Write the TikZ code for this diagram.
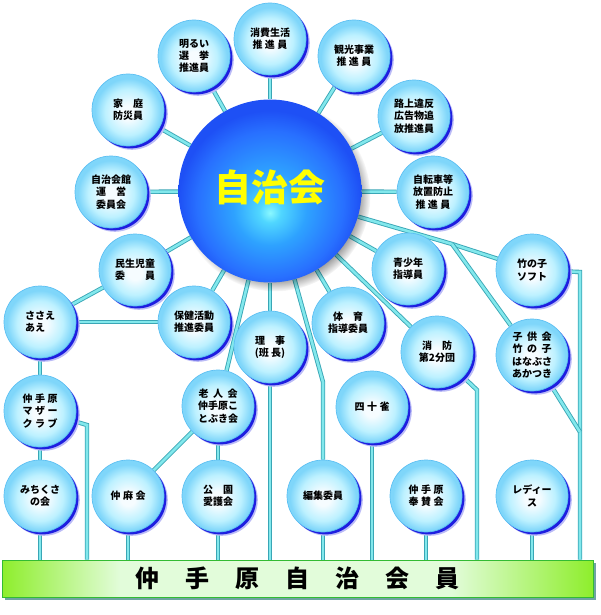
\documentclass[tikz,border=0pt]{standalone}
\usepackage{fontspec}
\setmainfont{Noto Sans CJK JP}
\usetikzlibrary{shadows,fadings,calc}
\definecolor{bubC}{HTML}{F6FCFF}
\definecolor{bubA}{HTML}{BDF1FF}
\definecolor{bubB}{HTML}{7FD6FA}
\definecolor{bubRim}{HTML}{5CBFF2}
\definecolor{bubSh}{HTML}{1E1EE0}
\definecolor{ballC}{HTML}{8AF8FF}
\definecolor{ballC2}{HTML}{50D6FF}
\definecolor{ballM}{HTML}{2EA2FF}
\definecolor{ballO}{HTML}{2870FF}
\definecolor{ballE}{HTML}{1E50F5}
\definecolor{ballText}{HTML}{FFFF00}
\definecolor{connFill}{HTML}{82E8EC}
\definecolor{connEdge}{HTML}{3AA6B6}
\definecolor{barG}{HTML}{8EEE2C}
\definecolor{barL}{HTML}{E2FCDA}
\definecolor{barEdge}{HTML}{33BB33}
\definecolor{barSh}{HTML}{6FA3A3}
\pgfdeclareradialshading{bubshade}{\pgfpoint{0bp}{-2bp}}{color(0bp)=(bubC); color(5bp)=(bubC); color(16bp)=(bubA); color(23bp)=(bubB); color(25bp)=(bubB); color(50bp)=(bubB)}
\pgfdeclareradialshading{ballshade}{\pgfpoint{0bp}{-6bp}}{color(0bp)=(ballC); color(3bp)=(ballC2); color(10bp)=(ballM); color(20bp)=(ballO); color(25bp)=(ballE); color(50bp)=(ballE)}
\pgfdeclarehorizontalshading{barshade}{100bp}{color(0bp)=(barG); color(25bp)=(barG); color(35bp)=(barL); color(63bp)=(barL); color(75bp)=(barG); color(100bp)=(barG)}
\pgfdeclarelayer{bg}
\pgfsetlayers{bg,main}
\begin{document}
\begin{tikzpicture}[x=1pt,y=-1pt,
  bub/.style={circle, minimum size=72pt, inner sep=0pt, align=center,
    font=\bfseries\fontsize{10}{12.3}\selectfont, text=black,
    shading=bubshade, draw=bubRim, line width=0.7pt,
    preaction={fill=bubSh!30!white, transform canvas={xshift=3.8pt,yshift=-3.8pt}},
    preaction={fill=bubSh, transform canvas={xshift=2.4pt,yshift=-2.4pt}}},
  bigball/.style={circle, minimum size=183pt, inner sep=0pt, shading=ballshade,
    circular drop shadow={shadow xshift=5pt, shadow yshift=-5pt, shadow scale=1.04, fill=black, opacity=.45}},
  balltext/.style={inner sep=0pt, text=ballText, font=\bfseries\fontsize{37}{40}\selectfont},
  barbox/.style={rectangle, minimum width=591pt, minimum height=37pt, inner sep=0pt,
    shading=barshade, draw=barEdge, line width=1pt,
    preaction={fill=barSh, transform canvas={xshift=3pt,yshift=-3pt}},
    font=\bfseries\fontsize{24}{24}\selectfont, text=black},
  conn/.style={draw=connEdge, line width=0.9pt, double=connFill, double distance=2.6pt}]
\useasboundingbox (0,0) rectangle (600,615);

\node[bigball] (ball) at (270,191) {};
\node[balltext] (balllabel) at (270,187) {自治会};

\node[bub] (akarui) at (194,56) {明るい\\選　挙\\推進員};
\node[bub] (shohi) at (270,39) {消費生活\\推 進 員};
\node[bub] (kanko) at (354,56) {観光事業\\推 進 員};
\node[bub] (rojo) at (414,116) {路上違反\\広告物追\\放推進員};
\node[bub] (jiten) at (433,192) {自転車等\\放置防止\\推 進 員};
\node[bub] (katei) at (128,110) {家　庭\\防災員};
\node[bub] (kaikan) at (111,192) {自治会館\\運　営\\委員会};
\node[bub] (minsei) at (135,270) {民生児童\\委　　員};
\node[bub, align=left] (sasae) at (40,322) {ささえ\\あえ};
\node[bub] (hoken) at (194,322) {保健活動\\推進委員};
\node[bub] (riji) at (270,347) {理　事\\(班 長)};
\node[bub] (taiiku) at (348,323) {体　育\\指導委員};
\node[bub] (seisho) at (408,269) {青少年\\指導員};
\node[bub] (shobo) at (437,352) {消　防\\第2分団};
\node[bub] (take) at (532,270) {竹の子\\ソフト};
\node[bub] (kodomo) at (532,355) {子\hspace{.45em}供\hspace{.45em}会\\竹\hspace{.45em}の\hspace{.45em}子\\はなぶさ\\あかつき};
\node[bub] (rojin) at (218,406) {老\hspace{.45em}人\hspace{.45em}会\\仲手原こ\\とぶき会};
\node[bub] (shiju) at (372,407) {四\hspace{.25em}十\hspace{.25em}雀};
\node[bub] (mother) at (40,411) {仲\hspace{.25em}手\hspace{.25em}原\\マ\hspace{.25em}ザ\hspace{.25em}ー\\ク\hspace{.25em}ラ\hspace{.25em}ブ};
\node[bub] (michi) at (40,496) {みちくさ\\の会};
\node[bub] (chuma) at (128,496) {仲\hspace{.25em}麻\hspace{.25em}会};
\node[bub] (koen) at (218,496) {公　園\\愛護会};
\node[bub] (henshu) at (323,496) {編集委員};
\node[bub] (hosan) at (426,496) {仲\hspace{.25em}手\hspace{.25em}原\\奉\hspace{.25em}賛\hspace{.25em}会};
\node[bub] (ladies) at (532,496) {レディー\\ス};

\node[barbox] (bar) at (297.5,578.5) {仲\hspace{26pt}手\hspace{26pt}原\hspace{26pt}自\hspace{26pt}治\hspace{26pt}会\hspace{26pt}員};

\coordinate (j2) at (452,244);
\coordinate (bShobo) at (477,390);
\coordinate (bTake) at (580,272);
\coordinate (bKodomo) at (580,432);
\coordinate (bHenshu) at (323,382);
\coordinate (bMother) at (87,425);

\begin{pgfonlayer}{bg}
\foreach \t in {katei,akarui,shohi,kanko,rojo,jiten,kaikan,minsei,hoken,riji,taiiku,seisho,shobo,rojin}
  \draw[conn] (ball) -- (\t);
\draw[conn] (ball) -- (j2) -- (take);
\draw[conn] (j2) -- (kodomo);
\draw[conn] (ball) -- (bHenshu) -- (henshu);
\draw[conn] (shobo) -- (bShobo) -- (bShobo |- bar.north);
\draw[conn] (take) -- (bTake) -- (bTake |- bar.north);
\draw[conn] (kodomo) -- (bKodomo);
\draw[conn] (rojin) -- (chuma);
\draw[conn] (rojin) -- (koen);
\draw[conn] (sasae) -- (minsei);
\draw[conn] (sasae) -- (hoken);
\draw[conn] (sasae) -- (mother);
\draw[conn] (mother) -- (michi);
\draw[conn] (mother) -- (bMother) -- (bMother |- bar.north);
\foreach \t in {riji,henshu,shiju,hosan,ladies,chuma,koen,michi}
  \draw[conn] (\t) -- (\t |- bar.north);
\end{pgfonlayer}
\end{tikzpicture}
\end{document}
